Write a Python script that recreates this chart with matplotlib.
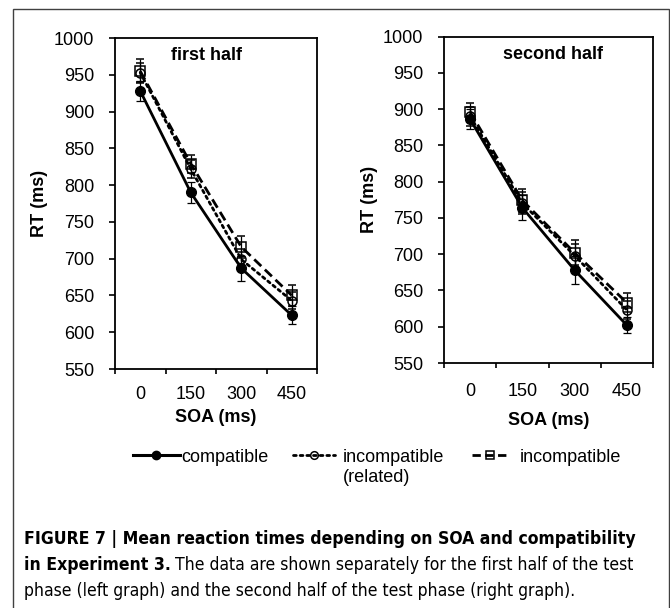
import matplotlib
matplotlib.use("Agg")
import matplotlib.pyplot as plt
from matplotlib import font_manager
from matplotlib.font_manager import FontProperties
from matplotlib.lines import Line2D
from matplotlib.patches import Rectangle
import numpy as np

# ---------------- data ----------------
soa_labels = ['0', '150', '300', '450']

first_compatible = [928, 790, 687, 623]
first_related = [953, 822, 699, 643]
first_incompatible = [955, 829, 716, 650]
first_compatible_err = [14, 14, 17, 12]
first_related_err = [13, 12, 14, 12]
first_incompatible_err = [16, 12, 15, 14]

second_compatible = [886, 764, 678, 602]
second_related = [890, 770, 698, 623]
second_incompatible = [896, 774, 702, 633]
second_compatible_err = [14, 17, 19, 11]
second_related_err = [13, 15, 16, 12]
second_incompatible_err = [12, 16, 17, 13]

y_ticks = [550, 600, 650, 700, 750, 800, 850, 900, 950, 1000]
legend_labels = ['compatible', 'incompatible', 'incompatible']
legend_sub = '(related)'
panel_titles = ['first half', 'second half']

# ---------------- style ----------------
plt.rcParams['font.family'] = ['Liberation Sans', 'DejaVu Sans']
FS = 13

# condensed font for the caption, if any
cap_reg = FontProperties(family='Liberation Sans')
cap_bold = FontProperties(family='Liberation Sans', weight='bold')
groups = {}
for f in font_manager.fontManager.ttflist:
    fn = f.fname
    if ('Condensed' in fn or 'Narrow' in fn) and 'Mono' not in fn and 'Serif' not in fn \
            and 'Italic' not in fn and 'Oblique' not in fn and 'Semi' not in fn \
            and 'Extra' not in fn and 'Ultra' not in fn:
        key = fn.split('/')[-2] + f.name
        g = groups.setdefault(key, {})
        w = f.weight if isinstance(f.weight, int) else {'normal': 400, 'regular': 400, 'bold': 700}.get(str(f.weight), 400)
        if f.style == 'normal':
            if w == 400:
                g['r'] = fn
            elif w == 700:
                g['b'] = fn
found = False
for pref in ['Liberation', 'Noto', 'DejaVu', 'Roboto', 'Open']:
    for k, g in groups.items():
        if pref.lower() in k.lower() and 'r' in g and 'b' in g:
            cap_reg = FontProperties(fname=g['r'])
            cap_bold = FontProperties(fname=g['b'])
            found = True
            break
    if found:
        break

W, H = 670, 608
fig = plt.figure(figsize=(W / 100, H / 100), dpi=100)

def px_axes(x0, y_top, x1, y_bot):
    return fig.add_axes([x0 / W, 1 - y_bot / H, (x1 - x0) / W, (y_bot - y_top) / H])

ax1 = px_axes(115, 38, 317, 369)
ax2 = px_axes(444, 36.5, 653, 363)

x = np.arange(len(soa_labels))
DOT = (0, (1, 1.4))
DASH = (0, (3.5, 1.8))

def draw(ax, comp, rel, inc, ce, re, ie, title, title_x, xlabel_y, ylabel_x, xpad):
    ax.errorbar(x, comp, yerr=ce, color='black', lw=2.0, marker='o', ms=7,
                mfc='black', mec='black', ecolor='black', elinewidth=0.9,
                capsize=3, capthick=0.9, zorder=3)
    ax.errorbar(x, rel, yerr=re, color='black', lw=2.0, ls=DOT,
                dash_capstyle='round', marker='o', ms=6.5, mfc='none',
                mec='black', mew=1.1, ecolor='black', elinewidth=0.9,
                capsize=3, capthick=0.9, zorder=4)
    ax.errorbar(x, inc, yerr=ie, color='black', lw=2.0, ls=DASH,
                marker='s', ms=6.5, mfc='none', mec='black', mew=1.1,
                ecolor='black', elinewidth=0.9, capsize=3, capthick=0.9,
                zorder=5)
    ax.set_xlim(-0.5, len(soa_labels) - 0.5)
    ax.set_ylim(550, 1000)
    ax.set_yticks(y_ticks)
    ax.set_yticklabels([str(v) for v in y_ticks], fontsize=FS)
    ax.set_xticks(np.arange(len(soa_labels) + 1) - 0.5)
    ax.set_xticklabels([])
    ax.set_xticks(x, minor=True)
    ax.set_xticklabels(soa_labels, minor=True, fontsize=FS)
    ax.tick_params(axis='x', which='major', direction='out', length=3.3, width=1.2)
    ax.tick_params(axis='x', which='minor', length=0, pad=xpad)
    ax.tick_params(axis='y', direction='out', length=4.5, width=1.2, pad=10.5)
    for s in ax.spines.values():
        s.set_linewidth(1.3)
        s.set_color('black')
    ax.text(title_x, 0.946, title, transform=ax.transAxes, ha='center',
            va='center', fontsize=FS, fontweight='bold')
    ax.set_xlabel('SOA (ms)', fontsize=FS, fontweight='bold')
    ax.xaxis.set_label_coords(0.5, xlabel_y)
    ax.set_ylabel('RT (ms)', fontsize=FS, fontweight='bold')
    ax.yaxis.set_label_coords(ylabel_x, 0.5)

draw(ax1, first_compatible, first_related, first_incompatible,
     first_compatible_err, first_related_err, first_incompatible_err,
     panel_titles[0], 0.455, -0.121, -0.332, 12.5)
draw(ax2, second_compatible, second_related, second_incompatible,
     second_compatible_err, second_related_err, second_incompatible_err,
     panel_titles[1], 0.52, -0.150, -0.315, 14.5)

# legend (three single-entry legends, positioned like the reference)
leg_handles = [
    Line2D([], [], color='black', lw=2.2, marker='o', ms=6, mfc='black'),
    Line2D([], [], color='black', lw=2.0, ls=DOT, dash_capstyle='round',
           marker='o', ms=5.5, mfc='none', mew=1.1),
    Line2D([], [], color='black', lw=2.0, ls=(0, (3.0, 1.6)), marker='s', ms=5.5,
           mfc='none', mew=1.1),
]
leg_x = [133, 293, 472]
leg_hl = [2.6, 2.33, 2.0]
leg_pad = [0.05, 0.45, 0.67]
LEG_Y = 457
legs = []
for h, lab, lx, hl, pad in zip(leg_handles, legend_labels, leg_x, leg_hl, leg_pad):
    lg = fig.legend([h], [lab], loc='center left',
                    bbox_to_anchor=(lx / W, 1 - LEG_Y / H), frameon=False,
                    fontsize=FS, handlelength=hl, handletextpad=pad,
                    borderpad=0, borderaxespad=0)
    legs.append(lg)

# outer frame
fig.patches.append(Rectangle((13 / W, -0.02), 656 / W, 1 - 9 / H + 0.02,
                             transform=fig.transFigure, fill=False,
                             edgecolor='#404040', lw=1.0))

fig.canvas.draw()
renderer = fig.canvas.get_renderer()

# "(related)" under the second legend label
tb = legs[1].get_texts()[0].get_window_extent(renderer)
fig.text(tb.x0 / W, 1 - 477 / H, legend_sub, fontsize=FS, ha='left', va='center')

# caption
cap_x = 24 / W
line1 = 'FIGURE 7 | Mean reaction times depending on SOA and compatibility'
t1 = fig.text(cap_x, 1 - 539 / H, line1, fontproperties=cap_bold,
              va='center', ha='left')
t1.set_fontsize(12.5)
bb = t1.get_window_extent(renderer)
fs = min(13.5, 12.5 * (612 / bb.width))
t1.set_fontsize(fs)
t2a = fig.text(cap_x, 1 - 565 / H, 'in Experiment 3.', fontproperties=cap_bold,
               va='center', ha='left')
t2a.set_fontsize(fs)
bb2 = t2a.get_window_extent(renderer)
t2b = fig.text((bb2.x1 + 4) / W, 1 - 565 / H,
               'The data are shown separately for the first half of the test',
               fontproperties=cap_reg, va='center', ha='left')
t2b.set_fontsize(fs)
t3 = fig.text(cap_x, 1 - 591 / H,
              'phase (left graph) and the second half of the test phase (right graph).',
              fontproperties=cap_reg, va='center', ha='left')
t3.set_fontsize(fs)

fig.savefig('out.png', dpi=100)
